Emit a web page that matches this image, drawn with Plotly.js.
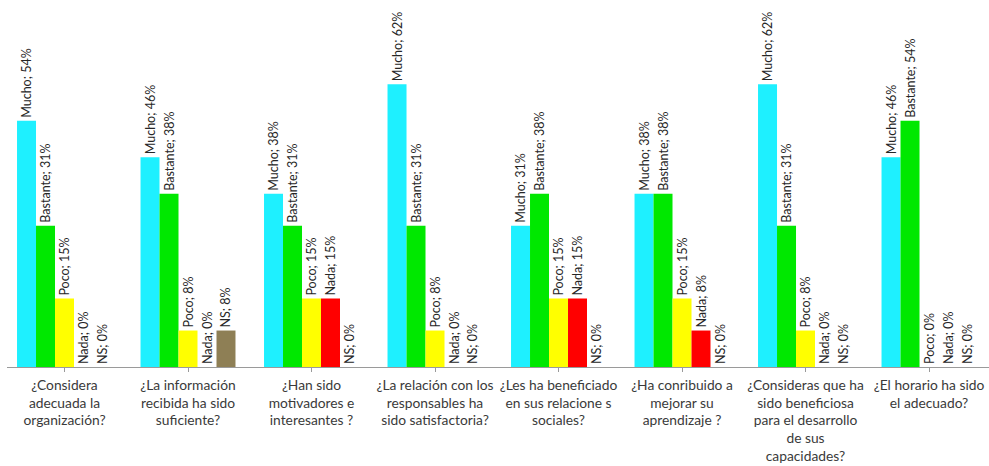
<!DOCTYPE html>
<html>
<head>
<meta charset="utf-8">
<script src="https://cdn.plot.ly/plotly-3.0.1.min.js"></script>
<style>html,body{margin:0;padding:0;background:#fff;}#chart{width:989px;height:466px;}</style>
</head>
<body>
<div id="chart"></div>
<script>
const categories = [
  "¿Considera<br>adecuada la<br>organización?",
  "¿La información<br>recibida ha sido<br>suficiente?",
  "¿Han sido<br>motivadores e<br>interesantes ?",
  "¿La relación con los<br>responsables ha<br>sido satisfactoria?",
  "¿Les ha beneficiado<br>en sus relacione s<br>sociales?",
  "¿Ha conribuido a<br>mejorar su<br>aprendizaje ?",
  "¿Consideras que ha<br>sido beneficiosa<br>para el desarrollo<br>de sus<br>capacidades?",
  "¿El horario ha sido<br>el adecuado?"
];
const mucho    = [54, 46, 38, 62, 31, 38, 62, 46];
const bastante = [31, 38, 31, 31, 38, 38, 31, 54];
const poco     = [15, 8, 15, 8, 15, 15, 8, 0];
const nada     = [0, 0, 15, 0, 15, 8, 0, 0];
const ns       = [0, 8, 0, 0, 0, 0, 0, 0];

const seriesNames = ["Mucho", "Bastante", "Poco", "Nada", "NS"];
const seriesValues = [mucho, bastante, poco, nada, ns];
const seriesColors = ["#1ef0ff", "#00e800", "#ffff00", "#ff0000", "#8e7f55"];

const xIdx = categories.map((c, i) => i);

const traces = seriesNames.map((name, s) => ({
  type: "bar",
  name: name,
  x: xIdx,
  y: seriesValues[s],
  text: seriesValues[s].map(v => name + "; " + v + "%"),
  textposition: "outside",
  textangle: -90,
  constraintext: "none",
  cliponaxis: false,
  textfont: {family: "Lato, 'Liberation Sans', sans-serif", size: 12.5, color: "#262626"},
  marker: {color: seriesColors[s], line: {width: 0}},
  hoverinfo: "none"
}));

const layout = {
  width: 989,
  height: 466,
  margin: {l: 7, r: 0, t: 0, b: 99, pad: 0},
  paper_bgcolor: "#ffffff",
  plot_bgcolor: "#ffffff",
  showlegend: false,
  barmode: "group",
  bargap: 0.231,
  bargroupgap: 0,
  xaxis: {
    range: [-0.4656, 7.4857],
    tickmode: "array",
    tickvals: xIdx,
    ticktext: categories,
    tickangle: 0,
    showline: true,
    linecolor: "#9a9a9a",
    linewidth: 1,
    ticks: "outside",
    tickson: "boundaries",
    ticklen: 4,
    tickcolor: "#9a9a9a",
    ticklabelstandoff: 1,
    showgrid: false,
    zeroline: false,
    tickfont: {family: "Lato, 'Liberation Sans', sans-serif", size: 13.8, color: "#3a3a3a"}
  },
  yaxis: {
    range: [0, 80.5],
    visible: false,
    showgrid: false,
    zeroline: false
  }
};

Plotly.newPlot("chart", traces, layout, {displayModeBar: false, staticPlot: true});
</script>
</body>
</html>
